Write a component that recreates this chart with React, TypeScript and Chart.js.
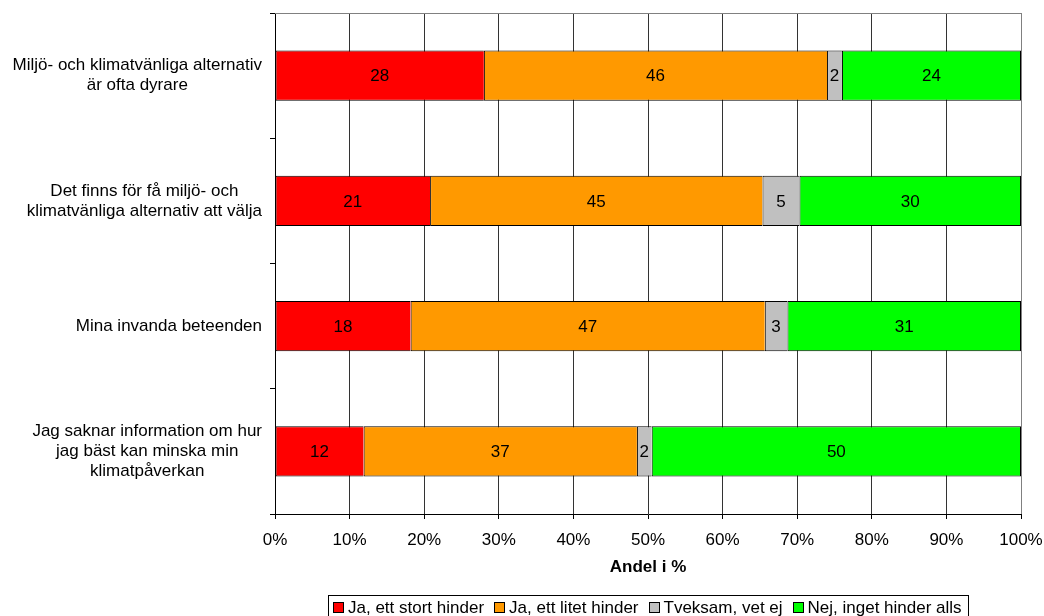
import React, { useEffect, useRef } from "react";
import { Chart, registerables } from "chart.js";

Chart.register(...registerables);

const categories: string[][] = [
  ["Miljö- och klimatvänliga alternativ", "är ofta dyrare"],
  ["Det finns för få miljö- och", "klimatvänliga alternativ att välja"],
  ["Mina invanda beteenden"],
  ["Jag saknar information om hur", "jag bäst kan minska min", "klimatpåverkan"],
];

const seriesNames = [
  "Ja, ett stort hinder",
  "Ja, ett litet hinder",
  "Tveksam, vet ej",
  "Nej, inget hinder alls",
];

const storHinder = [28, 21, 18, 12];
const litetHinder = [46, 45, 47, 37];
const tveksam = [2, 5, 3, 2];
const ingetHinder = [24, 30, 31, 50];

const seriesColors = ["#FF0000", "#FF9900", "#C0C0C0", "#00FF00"];

const xTickValues = [0, 10, 20, 30, 40, 50, 60, 70, 80, 90, 100];
const xTitle = "Andel i %";

const FONT = '"Liberation Sans", Arial, sans-serif';
const FS = 17;

export default function App() {
  const canvasRef = useRef<HTMLCanvasElement | null>(null);

  useEffect(() => {
    const canvas = canvasRef.current;
    if (!canvas) return;
    const raw = [storHinder, litetHinder, tveksam, ingetHinder];
    const totals = categories.map((_, i) => raw.reduce((s, arr) => s + arr[i], 0));

    const datasets = raw.map((arr, k) => ({
      label: seriesNames[k],
      data: arr.map((v, i) => (v / totals[i]) * 100),
      rawValues: arr,
      backgroundColor: seriesColors[k],
      borderColor: "#000000",
      borderWidth: k === raw.length - 1 ? 1 : { top: 1, bottom: 1, left: 1, right: 0 },
      borderSkipped: false as const,
      barPercentage: 0.4,
      categoryPercentage: 1,
    }));

    const valueLabels = {
      id: "valueLabels",
      afterDatasetsDraw(chart: any) {
        const ctx = chart.ctx;
        ctx.save();
        ctx.font = `${FS}px ${FONT}`;
        ctx.fillStyle = "#000";
        ctx.textAlign = "center";
        ctx.textBaseline = "middle";
        chart.data.datasets.forEach((ds: any, di: number) => {
          const meta = chart.getDatasetMeta(di);
          meta.data.forEach((el: any, i: number) => {
            const { x, y, base } = el.getProps(["x", "y", "base"], true);
            ctx.fillText(String(ds.rawValues[i]), (x + base) / 2, y + 1);
          });
        });
        ctx.restore();
      },
    };

    const frameLine = {
      id: "frameLine",
      beforeDatasetsDraw(chart: any) {
        const { ctx, chartArea } = chart;
        ctx.save();
        ctx.strokeStyle = "#808080";
        ctx.lineWidth = 1;
        ctx.beginPath();
        ctx.moveTo(chartArea.left, Math.round(chartArea.top) + 0.5);
        ctx.lineTo(chartArea.right, Math.round(chartArea.top) + 0.5);
        ctx.stroke();
        ctx.restore();
      },
    };

    const yLabels = {
      id: "yLabels",
      afterDraw(chart: any) {
        const { ctx, chartArea } = chart;
        const yScale = chart.scales.y;
        ctx.save();
        ctx.font = `${FS}px ${FONT}`;
        ctx.fillStyle = "#000";
        ctx.textAlign = "center";
        ctx.textBaseline = "middle";
        const lh = 20;
        const right = chartArea.left - 13;
        (chart.data.labels as string[][]).forEach((lines, i) => {
          const widest = Math.max(...lines.map((l) => ctx.measureText(l).width));
          const cx = right - widest / 2;
          const cy = yScale.getPixelForValue(i);
          lines.forEach((l, j) => {
            ctx.fillText(l, cx, cy + (j - (lines.length - 1) / 2) * lh);
          });
        });
        ctx.restore();
      },
    };

    const boxLegend = {
      id: "boxLegend",
      afterDraw(chart: any) {
        const { ctx, chartArea } = chart;
        const xScale = chart.scales.x;
        ctx.save();
        ctx.font = `${FS}px ${FONT}`;
        ctx.textBaseline = "middle";
        ctx.textAlign = "left";
        const pad = 5;
        const sq = 11;
        const gap = 4;
        const itemGap = 10;
        const items = chart.data.datasets.map((ds: any) => ({
          text: ds.label,
          color: ds.backgroundColor,
          w: ctx.measureText(ds.label).width,
        }));
        const inner = items.reduce((s: number, it: any) => s + sq + gap + it.w, 0) + itemGap * (items.length - 1);
        const boxW = Math.round(inner + pad * 2 + 1);
        const boxTop = Math.round(xScale.bottom + 11);
        const boxLeft = Math.round((chartArea.left + chartArea.right) / 2 - boxW / 2);
        const boxH = 26;
        ctx.strokeStyle = "#000";
        ctx.lineWidth = 1;
        ctx.strokeRect(boxLeft + 0.5, boxTop + 0.5, boxW, boxH);
        const cy = boxTop + 12;
        let x = boxLeft + pad;
        items.forEach((it: any) => {
          const sx = Math.round(x);
          const sy = Math.round(cy - sq / 2);
          ctx.fillStyle = it.color;
          ctx.fillRect(sx, sy, sq, sq);
          ctx.strokeStyle = "#000";
          ctx.strokeRect(sx + 0.5, sy + 0.5, sq - 1, sq - 1);
          ctx.fillStyle = "#000";
          ctx.fillText(it.text, x + sq + gap, cy + 1);
          x += sq + gap + it.w + itemGap;
        });
        ctx.restore();
      },
    };

    const chart = new Chart(canvas, {
      type: "bar",
      data: { labels: categories as any, datasets: datasets as any },
      options: {
        indexAxis: "y",
        animation: false,
        responsive: true,
        maintainAspectRatio: false,
        layout: { padding: { left: 0, right: 23, top: 13, bottom: 32 } },
        plugins: {
          legend: { display: false },
          tooltip: { enabled: false },
          title: { display: false },
        },
        scales: {
          x: {
            stacked: true,
            min: 0,
            max: 100,
            afterBuildTicks: (scale: any) => {
              scale.ticks = xTickValues.map((v) => ({ value: v }));
            },
            ticks: {
              callback: (v: any) => `${v}%`,
              color: "#000",
              font: { family: FONT, size: FS },
              padding: 11,
              maxRotation: 0,
            },
            grid: {
              color: (c: any) => (c.index === xTickValues.length - 1 ? "#808080" : "#333333"),
              tickColor: "#000",
              tickLength: 5,
              lineWidth: 1,
            },
            border: { color: "#000", width: 1 },
            title: {
              display: true,
              text: xTitle,
              color: "#000",
              font: { family: FONT, size: FS, weight: "bold" },
              padding: { top: 0, bottom: 6 },
            },
            afterFit: (scale: any) => {
              scale.height = 70;
              scale.paddingLeft = 0;
              scale.paddingRight = 0;
            },
          },
          y: {
            stacked: true,
            ticks: { display: false },
            grid: {
              drawOnChartArea: false,
              tickLength: 5,
              color: "#000",
              offset: true,
            },
            border: { color: "#000", width: 1 },
            afterFit: (scale: any) => {
              scale.width = 275;
              scale.paddingTop = 0;
              scale.paddingBottom = 0;
            },
          },
        },
      },
      plugins: [frameLine, valueLabels, yLabels, boxLegend],
    });

    return () => chart.destroy();
  }, []);

  return (
    <div style={{ position: "fixed", left: 0, top: 0, width: 1044, height: 616, background: "#fff" }}>
      <canvas ref={canvasRef} />
    </div>
  );
}
